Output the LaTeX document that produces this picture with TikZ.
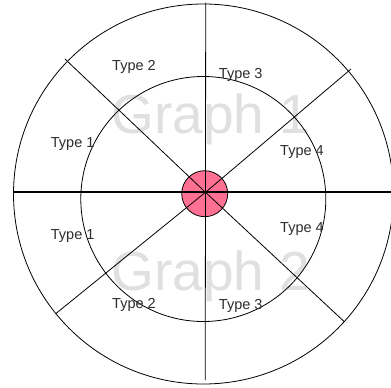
\documentclass[tikz,border=0pt]{standalone}
\usepackage{fontspec}
\setmainfont{Liberation Sans}
\definecolor{hubpink}{RGB}{255,112,146}
\definecolor{labelgray}{RGB}{45,45,45}
\definecolor{markgray}{RGB}{224,224,226}
\begin{document}
\begin{tikzpicture}[x=1pt,y=-1pt,
  thinline/.style={line width=0.8pt,black},
  boldline/.style={line width=2.2pt,black},
  typelabel/.style={inner sep=0pt,text=labelgray,font=\fontsize{14.5}{16}\selectfont},
  watermark/.style={inner sep=0pt,anchor=base west,text depth=0pt,text=markgray,font=\fontsize{55}{60}\selectfont},
  hub/.style={circle,draw=black,line width=0.8pt,fill=hubpink,minimum size=46pt,inner sep=0pt}]
\useasboundingbox (0,0) rectangle (391,388);
\clip (0,0) rectangle (391,388);
\fill[white] (0,0) rectangle (391,388);
% watermarks
\node[watermark] (g1) at (111.5,133.3) {Graph 1};
\node[watermark] (g2) at (111.5,290) {Graph 2};
% circles
\draw[thinline] (203.5,194) circle[radius=190];
\draw[thinline] (203.3,199) circle[radius=122.5];
% hub
\node[hub] (hub) at (204.7,193.7) {};
% spoke ends
\coordinate (c) at (205.5,192.3);
\coordinate (top) at (205.7,2.7);
\coordinate (bot) at (205.2,380);
\coordinate (lft) at (13,192.3);
\coordinate (rgt) at (391,192.3);
\coordinate (ul) at (65,59);
\coordinate (ur) at (351,69);
\coordinate (ll) at (55.7,313.7);
\coordinate (lr) at (344.3,321.7);
\draw[thinline] (c) -- (top);
\draw[thinline] (c) -- (bot);
\draw[thinline] (c) -- (ul);
\draw[thinline] (c) -- (ur);
\draw[thinline] (c) -- (ll);
\draw[thinline] (c) -- (lr);
\draw[boldline] (lft) -- (rgt);
% labels
\node[typelabel] (t2a) at (134,67) {Type 2};
\node[typelabel] (t3a) at (240.7,75) {Type 3};
\node[typelabel] (t1a) at (72.7,144) {Type 1};
\node[typelabel] (t4a) at (302,152.3) {Type 4};
\node[typelabel] (t1b) at (72.7,236) {Type 1};
\node[typelabel] (t4b) at (302,229) {Type 4};
\node[typelabel] (t2b) at (134,305) {Type 2};
\node[typelabel] (t3b) at (240.7,305.7) {Type 3};
\end{tikzpicture}
\end{document}
